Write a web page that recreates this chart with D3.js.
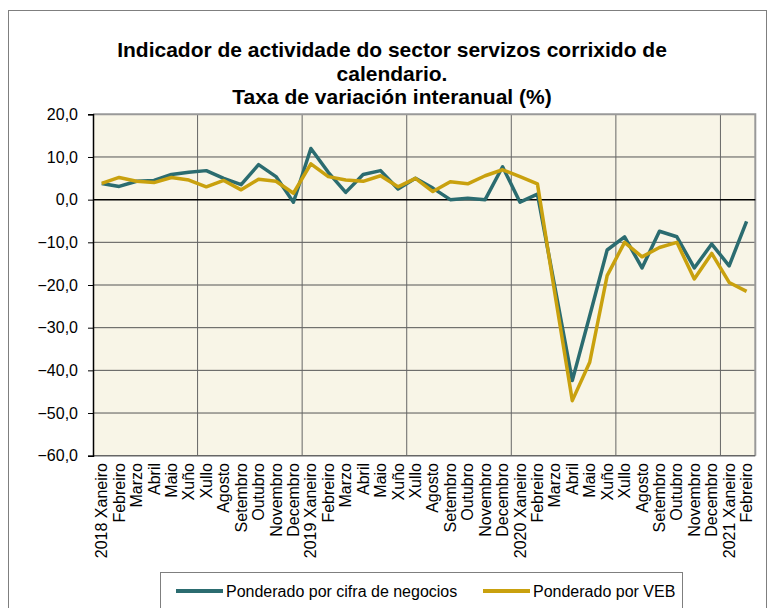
<!DOCTYPE html>
<html>
<head>
<meta charset="utf-8">
<script src="https://cdn.jsdelivr.net/npm/d3@7"></script>
<style>
  body { margin: 0; background: #fff; }
  svg { font-family: "Liberation Sans", Arial, sans-serif; }
</style>
</head>
<body>
<script>
// month labels, 2018 Xaneiro .. 2021 Febreiro
const months = [
  "2018 Xaneiro", "Febreiro", "Marzo", "Abril", "Maio", "Xuño", "Xullo", "Agosto", "Setembro", "Outubro", "Novembro", "Decembro",
  "2019 Xaneiro", "Febreiro", "Marzo", "Abril", "Maio", "Xuño", "Xullo", "Agosto", "Setembro", "Outubro", "Novembro", "Decembro",
  "2020 Xaneiro", "Febreiro", "Marzo", "Abril", "Maio", "Xuño", "Xullo", "Agosto", "Setembro", "Outubro", "Novembro", "Decembro",
  "2021 Xaneiro", "Febreiro"
];

const cifraNegocios = [
  3.8, 3.1, 4.3, 4.5, 5.9, 6.4, 6.8, 5.0, 3.5, 8.2, 5.4, -0.6,
  12.0, 6.4, 1.7, 5.9, 6.8, 2.5, 5.0, 2.7, 0.0, 0.3, 0.0, 7.7,
  -0.6, 1.3, -20.5, -42.4, -27.2, -11.8, -8.7, -16.0, -7.4, -8.7, -16.0, -10.4,
  -15.5, -5.1
];

const veb = [
  3.8, 5.2, 4.3, 4.0, 5.2, 4.6, 3.0, 4.5, 2.3, 4.8, 4.3, 1.5,
  8.4, 5.4, 4.6, 4.3, 5.6, 3.0, 5.0, 1.9, 4.2, 3.7, 5.6, 7.0,
  5.4, 3.7, -22.0, -47.1, -38.1, -17.8, -10.0, -13.4, -11.2, -10.0, -18.6, -12.6,
  -19.4, -21.5
];

const yTicks = [20, 10, 0, -10, -20, -30, -40, -50, -60];

const titleLines = [
  "Indicador de actividade do sector servizos corrixido de",
  "calendario.",
  "Taxa de variación interanual (%)"
];

const seriesNames = ["Ponderado por cifra de negocios", "Ponderado por VEB"];
const colors = ["#2b6c70", "#c9a10e"];

const W = 768, H = 608;
const plot = { left: 93, right: 755.3, top: 114.3, bottom: 455.7 };

const svg = d3.select("body").append("svg")
  .attr("width", W).attr("height", H);

// outer frame
svg.append("rect")
  .attr("x", 8.5).attr("y", 10.5)
  .attr("width", 758).attr("height", 610)
  .attr("fill", "#fff").attr("stroke", "#7f7f7f");

const x = d3.scaleBand().domain(d3.range(months.length)).range([plot.left, plot.right]);
const y = d3.scaleLinear().domain([-60, 20]).range([plot.bottom, plot.top]);

// plot background
svg.append("rect")
  .attr("x", plot.left).attr("y", plot.top)
  .attr("width", plot.right - plot.left).attr("height", plot.bottom - plot.top)
  .attr("fill", "#f8f5e7");

// horizontal grid
svg.append("g").selectAll("line")
  .data(yTicks.filter(d => d !== 0 && d !== -60 && d !== 20))
  .join("line")
  .attr("x1", plot.left).attr("x2", plot.right)
  .attr("y1", d => y(d)).attr("y2", d => y(d))
  .attr("stroke", "#555").attr("stroke-width", 1);

// vertical grid every 6 months
svg.append("g").selectAll("line")
  .data(d3.range(6, months.length, 6))
  .join("line")
  .attr("x1", d => x(d)).attr("x2", d => x(d))
  .attr("y1", plot.top).attr("y2", plot.bottom)
  .attr("stroke", "#666").attr("stroke-width", 1);

// top / right border
svg.append("path")
  .attr("d", `M${plot.left},${plot.top}H${plot.right}V${plot.bottom}`)
  .attr("fill", "none").attr("stroke", "#999").attr("stroke-width", 2);

// bottom border
svg.append("line")
  .attr("x1", plot.left).attr("x2", plot.right)
  .attr("y1", plot.bottom).attr("y2", plot.bottom)
  .attr("stroke", "#666").attr("stroke-width", 1.5);

// zero line
svg.append("line")
  .attr("x1", plot.left).attr("x2", plot.right)
  .attr("y1", y(0)).attr("y2", y(0))
  .attr("stroke", "#000").attr("stroke-width", 1.5);

// y axis
const yAxis = svg.append("g")
  .attr("transform", `translate(${plot.left},0)`)
  .call(d3.axisLeft(y).tickValues(yTicks).tickSize(5).tickPadding(10)
    .tickFormat(d => d3.format(".1f")(d).replace(".", ",")));
yAxis.select(".domain").attr("stroke", "#000").attr("stroke-width", 1.5);
yAxis.selectAll(".tick line").attr("stroke", "#000");
yAxis.selectAll("text").attr("font-size", 16).attr("fill", "#000")
  .attr("font-family", "Liberation Sans, Arial, sans-serif");

// x labels
svg.append("g").selectAll("text")
  .data(months)
  .join("text")
  .attr("transform", (d, i) => `translate(${x(i) + x.bandwidth() / 2},463) rotate(-90)`)
  .attr("text-anchor", "end")
  .attr("dy", "0.35em")
  .attr("font-size", 16)
  .text(d => d);

// lines
const line = d3.line()
  .x((d, i) => x(i) + x.bandwidth() / 2)
  .y(d => y(d));

[cifraNegocios, veb].forEach((s, k) => {
  svg.append("path")
    .datum(s)
    .attr("fill", "none")
    .attr("stroke", colors[k])
    .attr("stroke-width", 3.5)
    .attr("stroke-linejoin", "round")
    .attr("d", line);
});

// title
svg.append("text")
  .attr("x", 392).attr("y", 57)
  .attr("text-anchor", "middle")
  .attr("font-size", 21).attr("font-weight", "bold")
  .selectAll("tspan")
  .data(titleLines)
  .join("tspan")
  .attr("x", 392)
  .attr("dy", (d, i) => i === 0 ? 0 : 23.5)
  .text(d => d);

// legend
const lg = svg.append("g");
lg.append("rect")
  .attr("x", 160.5).attr("y", 572.5)
  .attr("width", 522).attr("height", 60)
  .attr("fill", "#fff").attr("stroke", "#7f7f7f");

const legendX = [176, 483];
seriesNames.forEach((n, k) => {
  lg.append("line")
    .attr("x1", legendX[k]).attr("x2", legendX[k] + 47)
    .attr("y1", 591).attr("y2", 591)
    .attr("stroke", colors[k]).attr("stroke-width", 4);
  lg.append("text")
    .attr("x", legendX[k] + 50).attr("y", 591)
    .attr("dy", "0.35em")
    .attr("font-size", 16)
    .text(n);
});
</script>
</body>
</html>
